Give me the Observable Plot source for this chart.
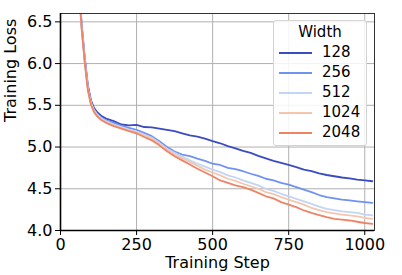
<!DOCTYPE html>
<html>
<head>
<meta charset="utf-8">
<script src="https://cdn.jsdelivr.net/npm/d3@7"></script>
<script src="https://cdn.jsdelivr.net/npm/@observablehq/plot@0.6"></script>
<style>
  html, body { margin: 0; padding: 0; background: #fff; }
  #wrap { position: relative; width: 402px; height: 275px; font-family: "DejaVu Sans", sans-serif; }
  #legend { position: absolute; left: 273px; top: 20px; width: 92px; height: 124px;
            background: rgba(255,255,255,0.85); border: 1px solid #d4d4d4; border-radius: 3px; }
  #legend .title { position: absolute; left: 0; width: 92px; top: 2px; text-align: center; font-size: 15px; color: #000; }
  #legend .sw { position: absolute; left: 5px; width: 33px; height: 2px; }
  #legend .lab { position: absolute; left: 48px; font-size: 15px; color: #000; line-height: 15px; }
</style>
</head>
<body>
<div id="wrap"></div>
<script>
const widths = ["128", "256", "512", "1024", "2048"];
const colors = ["#3b4cc0", "#6f92f3", "#c3d5f4", "#f4c6ae", "#ee8366"];
const steps = [50, 60, 70, 80, 90, 100, 110, 120, 135, 150,
  175, 200, 225, 250, 275, 300, 325, 350, 375, 400, 425, 450, 475, 500, 525, 550, 575, 600,
  625, 650, 675, 700, 725, 750, 775, 800, 825, 850, 875, 900, 925, 950, 975, 1000, 1025];
const loss128 = [7.40, 6.95, 6.45, 6.06, 5.74, 5.56, 5.47, 5.42, 5.37, 5.34,
  5.31, 5.27, 5.26, 5.265, 5.24, 5.235, 5.22, 5.205, 5.19, 5.165, 5.14, 5.125, 5.10, 5.07, 5.045, 5.01, 4.985, 4.955,
  4.93, 4.895, 4.865, 4.835, 4.81, 4.785, 4.76, 4.73, 4.71, 4.685, 4.665, 4.65, 4.635, 4.625, 4.61, 4.60, 4.59];
const loss256 = [7.40, 6.93, 6.43, 6.04, 5.72, 5.54, 5.45, 5.40, 5.35, 5.32,
  5.29, 5.255, 5.23, 5.205, 5.17, 5.13, 5.07, 5.00, 4.945, 4.91, 4.89, 4.86, 4.835, 4.80, 4.785, 4.75, 4.735, 4.71,
  4.68, 4.655, 4.62, 4.60, 4.57, 4.55, 4.52, 4.49, 4.46, 4.425, 4.40, 4.385, 4.37, 4.36, 4.35, 4.34, 4.33];
const loss512 = [7.39, 6.92, 6.42, 6.02, 5.70, 5.53, 5.44, 5.39, 5.34, 5.31,
  5.27, 5.24, 5.21, 5.185, 5.15, 5.11, 5.05, 4.98, 4.93, 4.885, 4.84, 4.80, 4.765, 4.73, 4.70, 4.66, 4.635, 4.60,
  4.57, 4.54, 4.50, 4.475, 4.44, 4.41, 4.38, 4.35, 4.32, 4.285, 4.26, 4.245, 4.23, 4.22, 4.21, 4.19, 4.18];
const loss1024 = [7.38, 6.91, 6.41, 6.01, 5.69, 5.52, 5.43, 5.38, 5.33, 5.30,
  5.26, 5.23, 5.20, 5.175, 5.14, 5.10, 5.04, 4.97, 4.91, 4.865, 4.82, 4.775, 4.73, 4.695, 4.66, 4.62, 4.595, 4.56,
  4.53, 4.50, 4.46, 4.435, 4.40, 4.37, 4.34, 4.31, 4.27, 4.245, 4.22, 4.205, 4.19, 4.18, 4.17, 4.15, 4.14];
const loss2048 = [7.38, 6.90, 6.40, 6.00, 5.68, 5.51, 5.42, 5.37, 5.32, 5.29,
  5.25, 5.22, 5.19, 5.165, 5.12, 5.08, 5.02, 4.95, 4.89, 4.84, 4.79, 4.74, 4.695, 4.65, 4.60, 4.57, 4.54, 4.52,
  4.49, 4.45, 4.41, 4.385, 4.34, 4.31, 4.28, 4.24, 4.21, 4.185, 4.16, 4.14, 4.13, 4.12, 4.105, 4.09, 4.08];
const xTicks = [0, 250, 500, 750, 1000];
const yTicks = [4.0, 4.5, 5.0, 5.5, 6.0, 6.5];
const xLabel = "Training Step";
const yLabel = "Training Loss";
const legendTitle = "Width";

const series = [loss128, loss256, loss512, loss1024, loss2048];
const rows = [];
series.forEach((arr, i) => arr.forEach((v, j) => rows.push({step: steps[j], loss: v, width: widths[i]})));

const chart = Plot.plot({
  width: 402,
  height: 275,
  marginLeft: 60,
  marginRight: 28,
  marginTop: 13,
  marginBottom: 45,
  style: {fontFamily: "DejaVu Sans, sans-serif", fontSize: "16px", color: "#000", background: "#fff"},
  x: {domain: [0, 1032]},
  y: {domain: [4.0, 6.6]},
  color: {type: "ordinal", domain: widths, range: colors},
  marks: [
    Plot.gridX(xTicks, {stroke: "#b0b0b0", strokeOpacity: 1, strokeWidth: 1}),
    Plot.gridY(yTicks, {stroke: "#b0b0b0", strokeOpacity: 1, strokeWidth: 1}),
    Plot.line(rows, {x: "step", y: "loss", z: "width", stroke: "width", strokeWidth: 1.8, clip: true}),
    Plot.frame({stroke: "#333", strokeWidth: 1}),
    Plot.ruleX([0], {stroke: "#000", strokeWidth: 1.6}),
    Plot.ruleY([4.0], {stroke: "#000", strokeWidth: 1.6}),
    Plot.axisX(xTicks, {tickSize: 5, tickPadding: 3, fontSize: 16, label: null, tickFormat: d3.format("d")}),
    Plot.axisY(yTicks, {tickSize: 5, tickPadding: 3, fontSize: 16, label: null, tickFormat: d3.format(".1f")}),
    Plot.text([xLabel], {frameAnchor: "bottom", dy: 37, fontSize: 16, fill: "#000"}),
    Plot.text([yLabel], {frameAnchor: "left", rotate: -90, dx: -50, fontSize: 16, fill: "#000"})
  ]
});
const wrap = document.getElementById("wrap");
wrap.appendChild(chart);

const leg = document.createElement("div");
leg.id = "legend";
const t = document.createElement("div");
t.className = "title";
t.textContent = legendTitle;
leg.appendChild(t);
widths.forEach((w, i) => {
  const sw = document.createElement("div");
  sw.className = "sw";
  sw.style.top = (31 + 20 * i) + "px";
  sw.style.background = colors[i];
  leg.appendChild(sw);
  const lab = document.createElement("div");
  lab.className = "lab";
  lab.style.top = (24 + 20 * i) + "px";
  lab.textContent = w;
  leg.appendChild(lab);
});
wrap.appendChild(leg);
</script>
</body>
</html>
